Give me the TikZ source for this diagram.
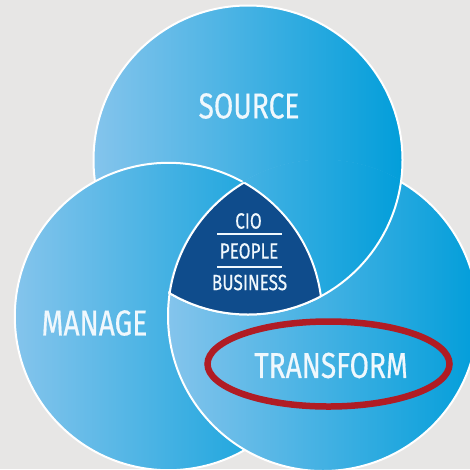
\documentclass[tikz,border=0pt]{standalone}
\usepackage{fontspec}
\setmainfont{Fira Sans}[FakeStretch=0.78,FakeBold=0.5]
\definecolor{bg}{RGB}{231,230,229}
\definecolor{cl}{RGB}{132,196,236}
\definecolor{cr}{RGB}{2,158,218}
\definecolor{core}{RGB}{15,76,140}
\definecolor{ring}{RGB}{176,28,36}
\definecolor{txt}{RGB}{240,248,253}
\tikzset{
  circfill/.style={left color=cl, right color=cr},
  outline/.style={draw=white, line width=2pt},
  bigtext/.style={text=txt, font=\fontsize{36}{36}\selectfont, inner sep=0pt, anchor=center},
  smalltext/.style={text=txt, font=\fontsize{22}{22}\selectfont, inner sep=0pt, anchor=center},
  sepline/.style={draw=txt, line width=1.4pt},
  markring/.style={draw=ring, line width=6.5pt},
}
\begin{document}
\begin{tikzpicture}[x=1pt,y=-1pt]
\useasboundingbox (0,0) rectangle (470,469);
\coordinate (cS) at (248,160);
\coordinate (cM) at (168.5,316.5);
\coordinate (cT) at (323,316);
\begin{scope}
  \clip (0,0) rectangle (470,469);
  \fill[bg] (0,0) rectangle (470,469);
  % three circles
  \path[circfill, outline] (cS) circle[radius=154.5];
  \path[circfill, outline] (cM) circle[radius=153.7];
  \path[circfill, outline] (cT) circle[radius=155];
  % SOURCE lies over TRANSFORM (clip a little wider to hide T's outline)
  \begin{scope}
    \clip (cT) circle[radius=156.5];
    \path[circfill, outline] (cS) circle[radius=154.5];
  \end{scope}
  % core
  \begin{scope}
    \clip (cS) circle[radius=154.5];
    \clip (cM) circle[radius=153.7];
    \fill[core] (cT) circle[radius=155];
  \end{scope}
  \begin{scope}
    \clip (cM) circle[radius=153.7];
    \clip (cT) circle[radius=155];
    \draw[outline] (cS) circle[radius=154.5];
  \end{scope}
  \begin{scope}
    \clip (cS) circle[radius=154.5];
    \clip (cT) circle[radius=155];
    \draw[outline] (cM) circle[radius=153.7];
  \end{scope}
  \begin{scope}
    \clip (cS) circle[radius=154.5];
    \clip (cM) circle[radius=153.7];
    \draw[outline] (cT) circle[radius=155];
  \end{scope}
\end{scope}
% labels
\node[bigtext] (source) at (249,106) {SOURCE};
\node[bigtext] (manage) at (94.5,323) {MANAGE};
\node[bigtext] (transform) at (331,365.5) {TRANSFORM};
\node[smalltext] (cio) at (248.5,221) {CIO};
\node[smalltext] (people) at (249,251) {PEOPLE};
\node[smalltext] (business) at (249.5,282.5) {BUSINESS};
\draw[sepline] (217,234) -- (282,234);
\draw[sepline] (217,267) -- (282,267);
% red ring
\draw[markring] (328.5,364) ellipse[x radius=121, y radius=42.5];
\end{tikzpicture}
\end{document}
